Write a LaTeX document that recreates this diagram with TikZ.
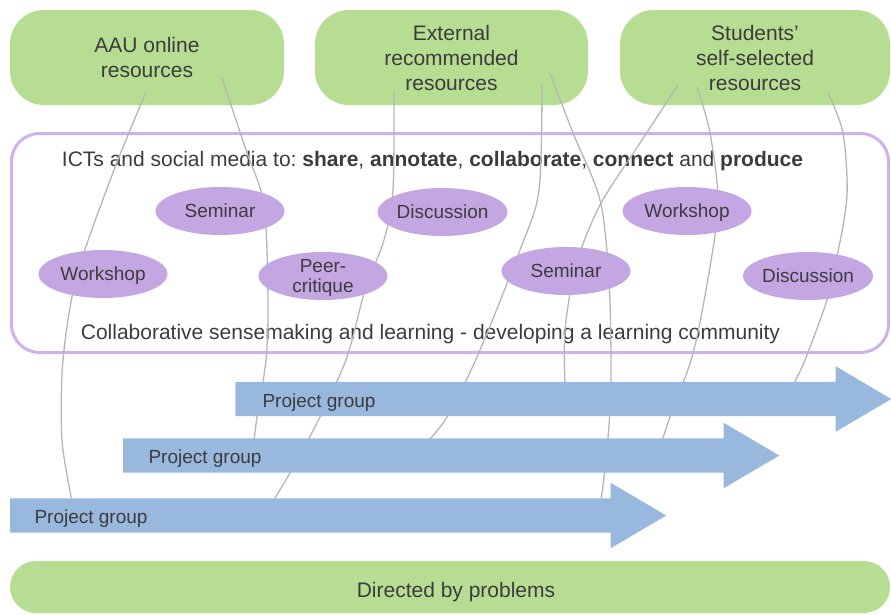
\documentclass[tikz,border=0pt]{standalone}
\usepackage{fontspec}
\setmainfont{Liberation Sans}
\usetikzlibrary{shapes.geometric,shapes.arrows}
\frenchspacing

\definecolor{resgreen}{RGB}{182,221,146}
\definecolor{actpurple}{RGB}{196,166,226}
\definecolor{framepurple}{RGB}{206,178,238}
\definecolor{groupblue}{RGB}{153,184,221}
\definecolor{ink}{RGB}{60,60,60}
\definecolor{threadgray}{RGB}{182,182,182}

\pgfdeclarelayer{bg}
\pgfdeclarelayer{mid}
\pgfsetlayers{bg,mid,main}

\begin{document}
\begin{tikzpicture}[x=1pt,y=-1pt,
    bigtext/.style={font=\fontsize{21}{25}\selectfont,text=ink},
    smalltext/.style={font=\fontsize{19}{20}\selectfont,text=ink},
    resource/.style={bigtext,fill=resgreen,rounded corners=34pt,
                     minimum height=95pt,align=center},
    activity/.style={smalltext,ellipse,fill=actpurple,inner sep=0pt,text depth=0pt,
                     minimum width=129pt,minimum height=48pt,align=center},
    group/.style={single arrow,fill=groupblue,inner xsep=0pt,inner ysep=17pt,
                  minimum height=656pt,anchor=west,
                  single arrow head extend=15.5pt,single arrow tip angle=61,
                  single arrow head indent=0pt},
    thread/.style={draw=threadgray,line width=1.3pt}]

  \useasboundingbox (0,0) rectangle (891,614);

  % resources, frame and problems
  \begin{pgfonlayer}{bg}
  \node[resource,minimum width=274pt] (aau) at (147,57.5) {AAU online\\resources};
  \node[resource,minimum width=273pt] (ext) at (451.5,57.5) {External\\recommended\\resources};
  \node[resource,minimum width=270pt] (stu) at (755,57.5) {Students'\\self-selected\\resources};

  \node[draw=framepurple,line width=3pt,rounded corners=28pt,inner sep=0pt,
        minimum width=877pt,minimum height=219pt] (frame) at (450,243) {};
  \node[bigtext,anchor=base] (ict) at (432.5,166.5)
    {ICTs and social media to: \textbf{share}, \textbf{annotate}, \textbf{collaborate}, \textbf{connect} and \textbf{produce}};
  \node[bigtext,anchor=base] (sense) at (430.5,339)
    {Collaborative sensemaking and learning - developing a learning community};

  \node[bigtext,fill=resgreen,rounded corners=26pt,text depth=0pt,
        minimum width=880pt,minimum height=52pt] (problems) at (450,587) {};
  \node[bigtext,anchor=base] (problems-t) at (456,597) {Directed by problems};
  \end{pgfonlayer}

  % thread ends
  \coordinate (aau-a) at (146,92);
  \coordinate (aau-b) at (222,78);
  \coordinate (ext-a) at (394,90);
  \coordinate (ext-b) at (542,83);
  \coordinate (ext-c) at (550,73);
  \coordinate (stu-a) at (678,85);
  \coordinate (stu-b) at (697,87);
  \coordinate (stu-c) at (828,93);
  \coordinate (grpA-a) at (565,385);
  \coordinate (grpA-b) at (793,385);
  \coordinate (grpB-a) at (254,441);
  \coordinate (grpB-b) at (428,441);
  \coordinate (grpB-c) at (662,441);
  \coordinate (grpC-a) at (72,501);
  \coordinate (grpC-b) at (273,501);
  \coordinate (grpC-c) at (601,501);

  % threads
  \begin{pgfonlayer}{mid}
  \draw[thread] plot[smooth] coordinates {(aau-a) (114,170) (77,275) (63,360) (62,440) (grpC-a)};
  \draw[thread] plot[smooth] coordinates {(aau-b) (246,150) (264,205) (268,300) (266,360) (257,417) (grpB-a)};
  \draw[thread] plot[smooth] coordinates {(ext-a) (393,190) (384,240) (365,290) (347,357) (320,417) (290,473) (grpC-b)};
  \draw[thread] plot[smooth] coordinates {(ext-b) (539,190) (520,250) (477,357) (447,417) (grpB-b)};
  \draw[thread] plot[smooth] coordinates {(ext-c) (573,133) (600,200) (609,280) (611,382) (607,450) (grpC-c)};
  \draw[thread] plot[smooth] coordinates {(stu-a) (640,143) (600,205) (576,265) (565,330) (grpA-a)};
  \draw[thread] plot[smooth] coordinates {(stu-b) (710,133) (718,205) (706,290) (692,357) (670,417) (grpB-c)};
  \draw[thread] plot[smooth] coordinates {(stu-c) (843,133) (847,195) (838,252) (827,300) (805,360) (grpA-b)};
  \end{pgfonlayer}

  % activities
  \node[activity] (sem1)  at (220,211)   {Seminar};
  \node[activity] (ws1)   at (103,274)   {Workshop};
  \node[activity,inner ysep=-4pt] (peer) at (323,276) {Peer-\\critique};
  \node[activity] (disc1) at (442.5,212) {Discussion};
  \node[activity] (sem2)  at (566,271)   {Seminar};
  \node[activity] (ws2)   at (687,211)   {Workshop};
  \node[activity] (disc2) at (808,276)   {Discussion};

  % project groups
  \node[group] (grpA) at (235,399)   {};
  \node[group] (grpB) at (123,455.5) {};
  \node[group] (grpC) at (10,515.5)  {};
  \node[smalltext,anchor=base west] (grpA-t) at ([xshift=24pt,yshift=-8pt]grpA.west) {Project group};
  \node[smalltext,anchor=base west] (grpB-t) at ([xshift=22pt,yshift=-8pt]grpB.west) {Project group};
  \node[smalltext,anchor=base west] (grpC-t) at ([xshift=21pt,yshift=-8pt]grpC.west) {Project group};

\end{tikzpicture}
\end{document}
